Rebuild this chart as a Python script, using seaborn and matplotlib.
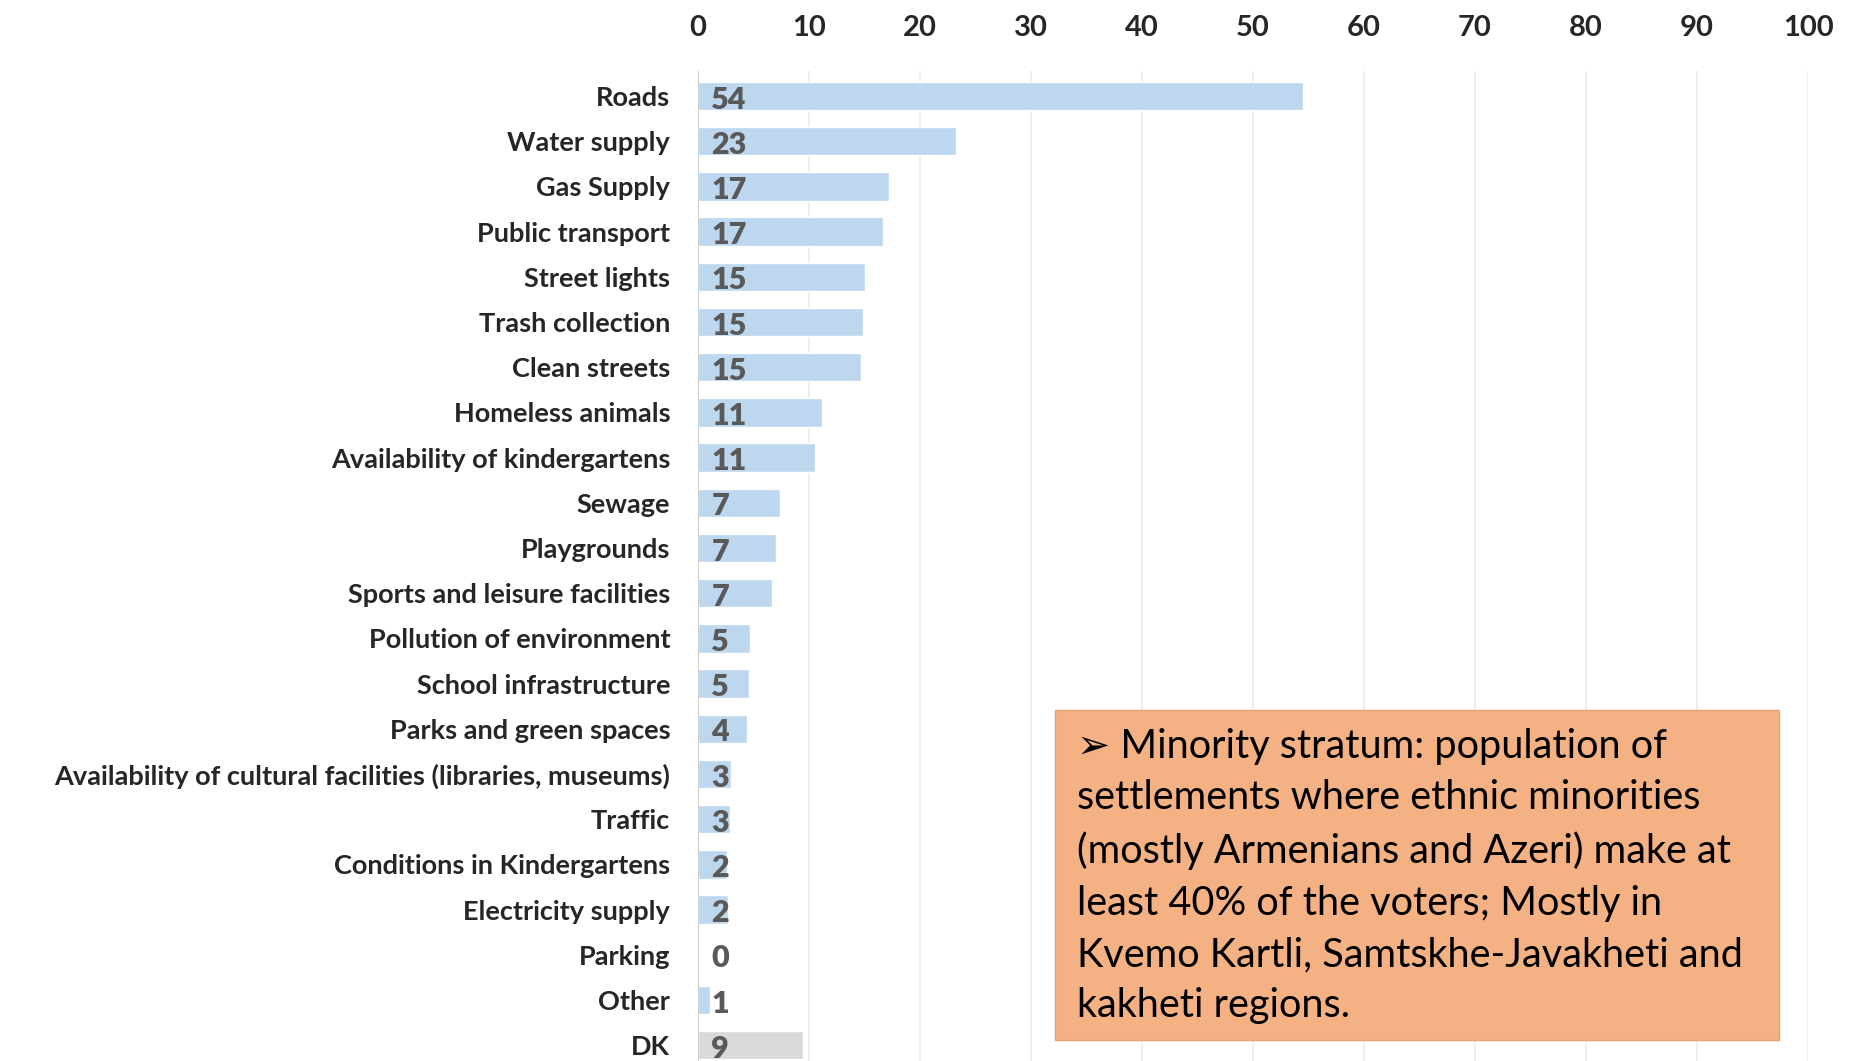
import pandas as pd
import matplotlib.pyplot as plt
import matplotlib.patches as patches
import seaborn as sns

# ========== Data ==========
categories = ['Roads', 'Water supply', 'Gas Supply', 'Public transport', 'Street lights',
              'Trash collection', 'Clean streets', 'Homeless animals',
              'Availability of kindergartens', 'Sewage', 'Playgrounds',
              'Sports and leisure facilities', 'Pollution of environment',
              'School infrastructure', 'Parks and green spaces',
              'Availability of cultural facilities (libraries, museums)', 'Traffic',
              'Conditions in Kindergartens', 'Electricity supply', 'Parking', 'Other', 'DK']
values = [54.5, 23.2, 17.2, 16.7, 15.0, 14.9, 14.7, 11.2, 10.5, 7.4, 7.0, 6.7,
          4.7, 4.6, 4.4, 3.0, 2.9, 2.6, 2.7, 0.1, 1.1, 9.5]
shown_labels = ['54', '23', '17', '17', '15', '15', '15', '11', '11', '7', '7', '7',
                '5', '5', '4', '3', '3', '2', '2', '0', '1', '9']
groups = ['answer'] * 21 + ['dk']
note = ("\u27a2 Minority stratum: population of\n"
        "settlements where ethnic minorities\n"
        "(mostly Armenians and Azeri) make at\n"
        "least 40% of the voters; Mostly in\n"
        "Kvemo Kartli, Samtskhe-Javakheti and\n"
        "kakheti regions.")

df = pd.DataFrame({'category': categories, 'value': values, 'group': groups})

# ========== Plot ==========
sns.set_style('white')
plt.rcParams['font.family'] = ['Lato', 'DejaVu Sans']

fig = plt.figure(figsize=(18.53, 10.61), dpi=100)
ax = fig.add_axes([0.3767, 0.0, 0.599, 0.933])

sns.barplot(data=df, y='category', x='value', hue='group', orient='h',
            palette={'answer': '#BDD7EE', 'dk': '#D9D9D9'}, dodge=False,
            width=0.63, legend=False, ax=ax, saturation=1)

ax.set_xlim(0, 100)
ax.set_ylim(len(categories) - 0.65, -0.55)
ax.set_xticks(range(0, 101, 10))
ax.xaxis.tick_top()
ax.tick_params(axis='x', length=0, pad=22, labelsize=21)
for t in ax.get_xticklabels():
    t.set_fontweight('bold')
ax.tick_params(axis='y', length=0, pad=20, labelsize=19.5)
for t in ax.get_yticklabels():
    t.set_fontweight('bold')
ax.set_xlabel('')
ax.set_ylabel('')
ax.grid(axis='x', color='#EBEBEB', linewidth=1.2)
ax.set_axisbelow(True)
for s in ['top', 'right', 'bottom']:
    ax.spines[s].set_visible(False)
ax.spines['left'].set_color('#D0D0D0')

for i, lab in enumerate(shown_labels):
    ax.text(1.2, i + 0.08, lab, va='center', ha='left', fontsize=22,
            fontweight='heavy', color='#595959')

# ========== Annotation box ==========
fig.patches.append(patches.Rectangle((1055 / 1853, 1 - 1040 / 1061), 724 / 1853, 330 / 1061,
                                     transform=fig.transFigure, facecolor='#F4B183',
                                     edgecolor='#E9A070', linewidth=1))
fig.text(1077 / 1853, 1 - 728 / 1061, note, ha='left', va='top', fontsize=28.5,
         linespacing=1.48, color='black')

fig.savefig('out.png', dpi=100)
